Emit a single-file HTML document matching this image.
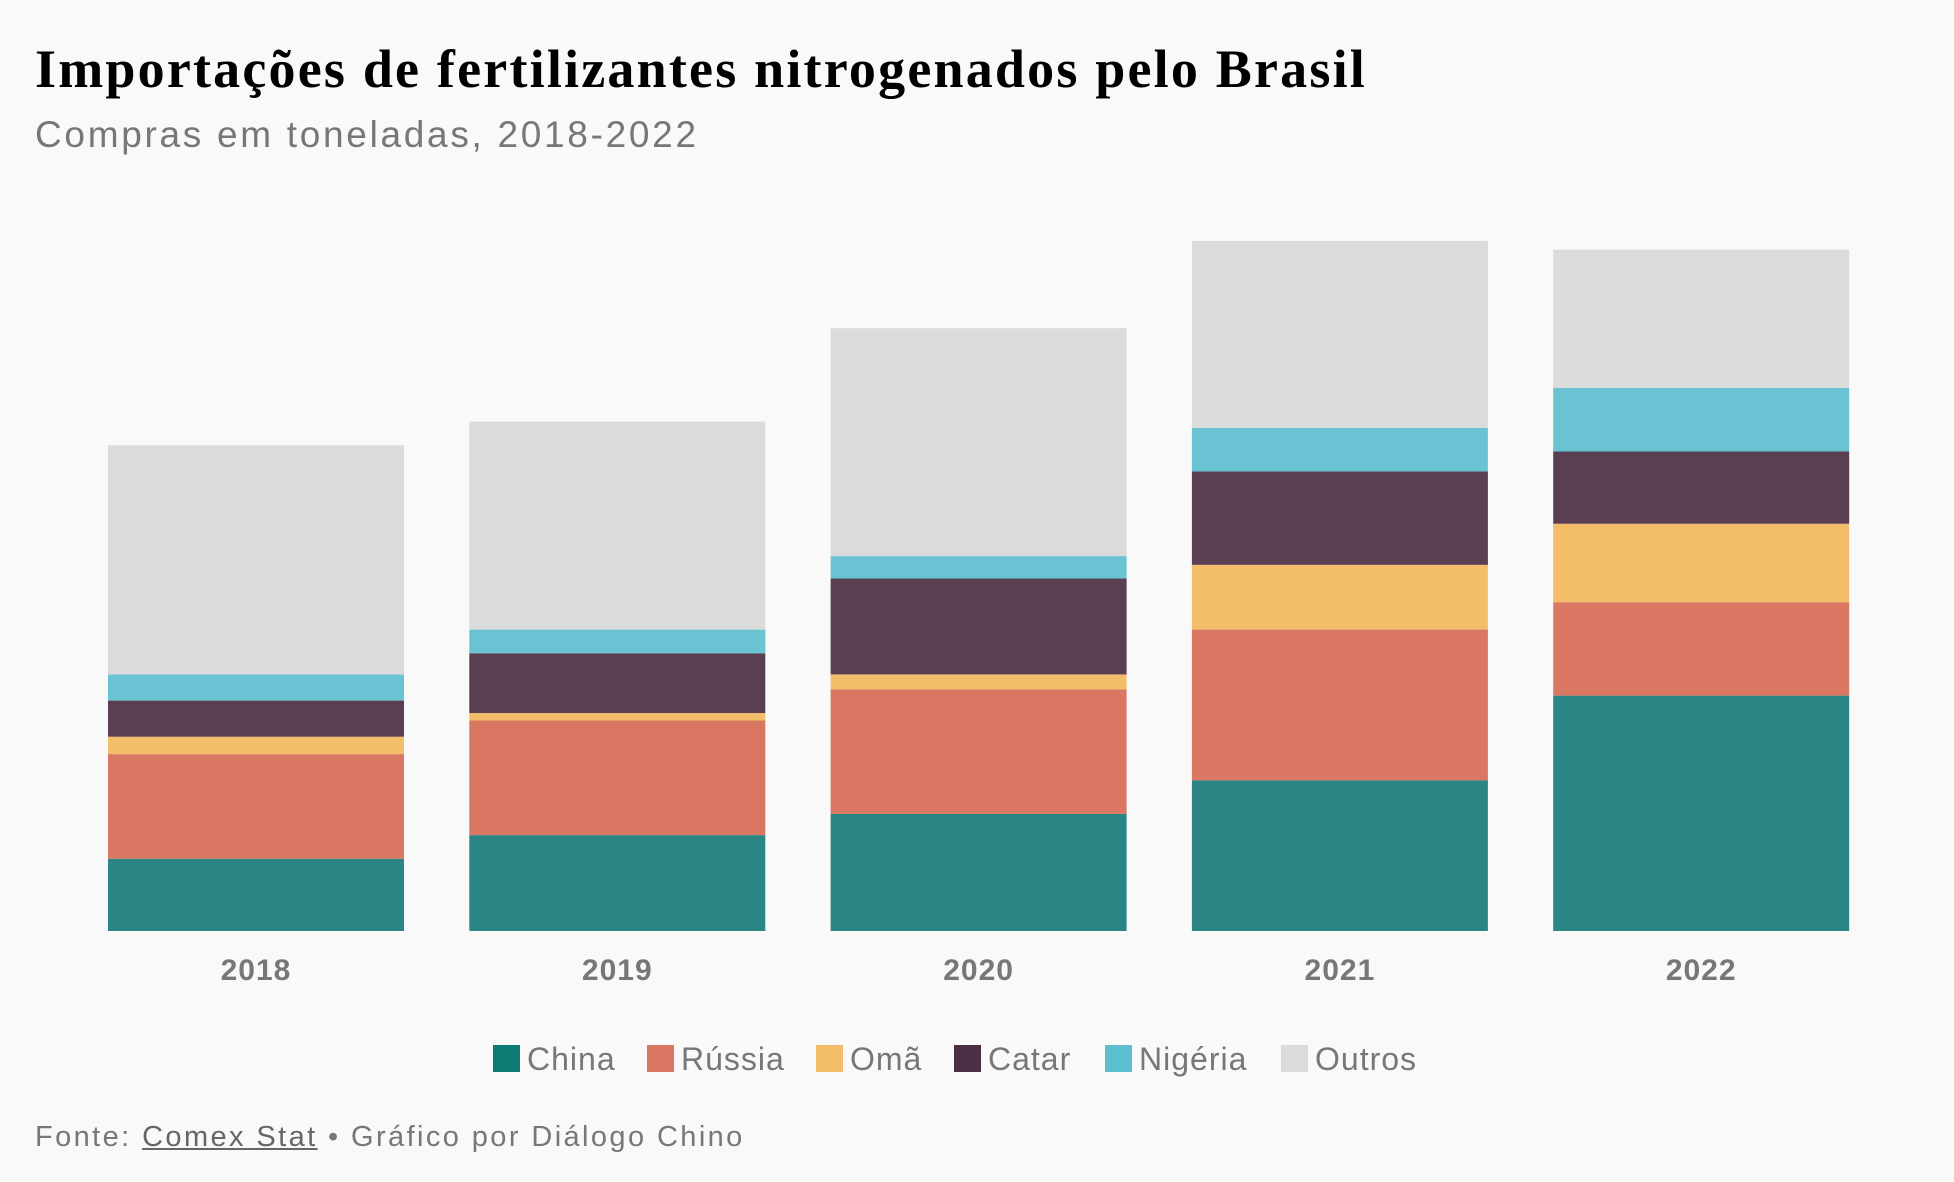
<!DOCTYPE html>
<html><head><meta charset="utf-8">
<style>
body{margin:0;background:#f9f9f9;width:1954px;height:1182px;overflow:hidden;font-family:"Liberation Sans",sans-serif;}
#title{position:absolute;left:35px;top:38px;font-family:"Liberation Serif",serif;font-weight:bold;font-size:54px;color:#000;letter-spacing:2.2px;}
#sub{position:absolute;left:35px;top:114px;font-size:37px;color:#777;letter-spacing:2.7px;}
#foot{position:absolute;left:35px;top:1121px;font-size:29px;color:#777;letter-spacing:2.4px;}
#foot u{color:#666;}
</style></head><body>
<div id="title">Importações de fertilizantes nitrogenados pelo Brasil</div>
<div id="sub">Compras em toneladas, 2018-2022</div>
<svg id="chart" width="1954" height="1182" style="position:absolute;left:0;top:0"></svg>
<div id="foot">Fonte: <u>Comex Stat</u> • Gráfico por Diálogo Chino</div>
<script>
const years = ["2018","2019","2020","2021","2022"];
const seriesNames = ["China","Rússia","Omã","Catar","Nigéria","Outros"];
const china   = [1160,1540,1880,2420,3780];
const russia  = [1680,1840,2000,2420,1500];
const oma     = [280,120,240,1040,1260];
const catar   = [580,960,1540,1500,1160];
const nigeria = [420,380,360,700,1020];
const outros  = [3680,3340,3660,3000,2220];
const colors = ["#2c8585","#d97762","#f3bd69","#5a3f53","#6ac3d2","#dbdbdb"];
const legendColors = ["#0e7a74","#d97762","#f3bd69","#4a2f45","#5bbfcd","#dbdbdb"];
const series = [china,russia,oma,catar,nigeria,outros];
const NS="http://www.w3.org/2000/svg";
const svg=document.getElementById('chart');
const baseY=931, x0=108, step=361.3, bw=296;
const k=1.2455/20;
function yS(v){return baseY - v*k;}
function xS(i){return x0+i*step;}
years.forEach((yr,i)=>{
  let acc=0;
  series.forEach((s,j)=>{
    const r=document.createElementNS(NS,'rect');
    r.setAttribute('x',xS(i));r.setAttribute('width',bw);
    r.setAttribute('y',yS(acc+s[i]));r.setAttribute('height',yS(acc)-yS(acc+s[i]));
    r.setAttribute('fill',colors[j]);
    
    
    svg.appendChild(r);
    acc+=s[i];
  });
  const t=document.createElementNS(NS,'text');
  t.setAttribute('x',xS(i)+bw/2);t.setAttribute('y',980);
  t.setAttribute('text-anchor','middle');t.setAttribute('font-size','30');
  t.setAttribute('font-weight','bold');t.setAttribute('fill','#777');
  t.setAttribute('letter-spacing','1');
  t.setAttribute('font-family','Liberation Sans, sans-serif');
  t.textContent=yr;
  
  
  svg.appendChild(t);
});
const legX=[493,647,816,954,1105,1281];
seriesNames.forEach((n,j)=>{
  const g=document.createElementNS(NS,'g');
  
  
  const r=document.createElementNS(NS,'rect');
  r.setAttribute('x',legX[j]);r.setAttribute('y',1045);r.setAttribute('width',27);r.setAttribute('height',27);
  r.setAttribute('fill',legendColors[j]);
  g.appendChild(r);
  const t=document.createElementNS(NS,'text');
  t.setAttribute('x',legX[j]+34);t.setAttribute('y',1070);
  t.setAttribute('font-size','32');t.setAttribute('fill','#777');
  t.setAttribute('letter-spacing','1');
  t.setAttribute('font-family','Liberation Sans, sans-serif');
  t.textContent=n;
  g.appendChild(t);
  svg.appendChild(g);
});
</script>
</body></html>
